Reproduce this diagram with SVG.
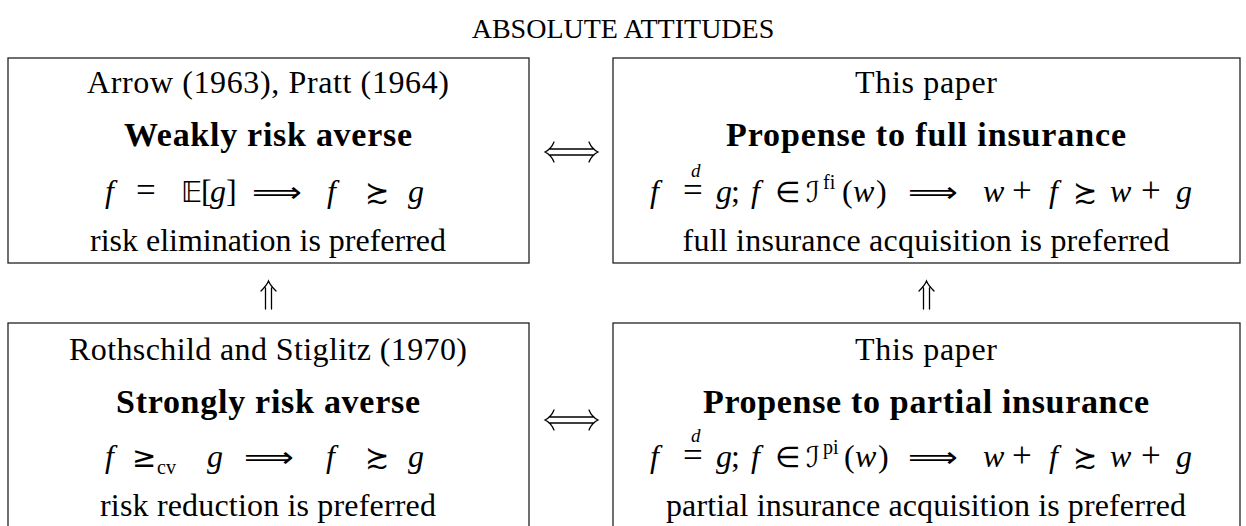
<svg xmlns="http://www.w3.org/2000/svg" width="1246" height="526" viewBox="0 0 1246 526">
<style>
.bg{fill:#fff}
.box{fill:#fff;stroke:#222;stroke-width:1.3}
.t{font-family:"Liberation Serif",serif;font-size:32px;fill:#000;text-anchor:middle}
.b{font-weight:bold;font-size:34px}
.ttl{font-family:"Liberation Serif",serif;font-size:28px;fill:#000;text-anchor:middle}
.mi{font-family:"Liberation Serif",serif;font-style:italic;font-size:32px}
.rm{font-family:"Liberation Serif",serif;font-size:32px}
.op{font-family:"Liberation Serif",serif;font-size:35px}
.sy{font-family:"DejaVu Sans",sans-serif;font-size:29px}
.sc{font-family:"Liberation Serif",serif;font-size:20px}
.sci{font-family:"Liberation Serif",serif;font-style:italic;font-size:19px}
.arr{fill:none;stroke:#000;stroke-width:1.3;stroke-linecap:round}
</style>
<rect class="bg" x="0" y="0" width="1246" height="526"/>
<text class="ttl" x="623" y="38">ABSOLUTE ATTITUDES</text>

<g id="weak">
<rect class="box" x="8" y="58" width="521" height="205"/>
<text class="t" x="268" y="93" textLength="362">Arrow (1963), Pratt (1964)</text>
<text class="t b" x="268" y="146" textLength="288">Weakly risk averse</text>
<text y="202"><tspan class="mi" x="105">f</tspan><tspan class="op" x="136">=</tspan><tspan class="sy" x="181">𝔼</tspan><tspan class="rm" x="201">[</tspan><tspan class="mi" x="210">g</tspan><tspan class="rm" x="226">]</tspan><tspan class="mi" x="327">f</tspan><tspan class="sy" x="365">≿</tspan><tspan class="mi" x="408">g</tspan></text>
<text class="sy" transform="matrix(1.2,0,0,1,252,202)">⟹</text>
<text class="t" x="268" y="251" textLength="356">risk elimination is preferred</text>
</g>

<g id="full">
<rect class="box" x="613" y="58" width="627" height="205"/>
<text class="t" x="926" y="93" textLength="142">This paper</text>
<text class="t b" x="926" y="146" textLength="400">Propense to full insurance</text>
<text y="202"><tspan class="mi" x="650">f</tspan><tspan class="sci" x="691" y="177">d</tspan><tspan class="op" x="683" y="202">=</tspan><tspan class="mi" x="716">g</tspan><tspan class="rm" x="731">;</tspan><tspan class="mi" x="751">f</tspan><tspan class="sy" x="775">∈</tspan><tspan class="sy" x="806">ℐ</tspan><tspan class="sc" x="823" y="189">fi</tspan><tspan class="rm" x="842" y="202">(</tspan><tspan class="mi" x="853">w</tspan><tspan class="rm" x="876">)</tspan><tspan class="mi" x="983">w</tspan><tspan class="op" x="1012">+</tspan><tspan class="mi" x="1049">f</tspan><tspan class="sy" x="1073">≿</tspan><tspan class="mi" x="1110">w</tspan><tspan class="op" x="1141">+</tspan><tspan class="mi" x="1176">g</tspan></text>
<text class="sy" transform="matrix(1.2,0,0,1,908,202)">⟹</text>
<text class="t" x="926" y="251" textLength="487">full insurance acquisition is preferred</text>
</g>

<g id="strong">
<rect class="box" x="8" y="323" width="521" height="220"/>
<text class="t" x="268" y="360" textLength="398">Rothschild and Stiglitz (1970)</text>
<text class="t b" x="268" y="413" textLength="304">Strongly risk averse</text>
<text y="467"><tspan class="mi" x="105">f</tspan><tspan class="sy" x="132">≥</tspan><tspan class="sc" x="157" y="474">cv</tspan><tspan class="mi" x="207" y="467">g</tspan><tspan class="mi" x="326">f</tspan><tspan class="sy" x="365">≿</tspan><tspan class="mi" x="408">g</tspan></text>
<text class="sy" transform="matrix(1.2,0,0,1,244,467)">⟹</text>
<text class="t" x="268" y="516" textLength="336">risk reduction is preferred</text>
</g>

<g id="partial">
<rect class="box" x="613" y="323" width="627" height="220"/>
<text class="t" x="926" y="360" textLength="142">This paper</text>
<text class="t b" x="926" y="413" textLength="446">Propense to partial insurance</text>
<text y="467"><tspan class="mi" x="650">f</tspan><tspan class="sci" x="691" y="442">d</tspan><tspan class="op" x="683" y="467">=</tspan><tspan class="mi" x="716">g</tspan><tspan class="rm" x="731">;</tspan><tspan class="mi" x="751">f</tspan><tspan class="sy" x="775">∈</tspan><tspan class="sy" x="806">ℐ</tspan><tspan class="sc" x="823" y="454">pi</tspan><tspan class="rm" x="844" y="467">(</tspan><tspan class="mi" x="855">w</tspan><tspan class="rm" x="878">)</tspan><tspan class="mi" x="983">w</tspan><tspan class="op" x="1012">+</tspan><tspan class="mi" x="1049">f</tspan><tspan class="sy" x="1073">≿</tspan><tspan class="mi" x="1110">w</tspan><tspan class="op" x="1141">+</tspan><tspan class="mi" x="1176">g</tspan></text>
<text class="sy" transform="matrix(1.2,0,0,1,908,467)">⟹</text>
<text class="t" x="926" y="516" textLength="520">partial insurance acquisition is preferred</text>
</g>

<g id="connectors">
<path class="arr" d="M549,149H594M549,155H594M554,142C552,147 549,150 545,152C549,154 552,157 554,162M589,142C591,147 594,150 598,152C594,154 591,157 589,162"/>
<path class="arr" d="M549,417H594M549,423H594M554,410C552,415 549,418 545,420C549,422 552,425 554,430M589,410C591,415 594,418 598,420C594,422 591,425 589,430"/>
<path class="arr" d="M265.5,288V309M271.5,288V309M261,291C264,288 267,285 268.5,281C270,285 273,288 276,291"/>
<path class="arr" d="M923.5,288V309M929.5,288V309M919,291C922,288 925,285 926.5,281C928,285 931,288 934,291"/>
</g>
</svg>
